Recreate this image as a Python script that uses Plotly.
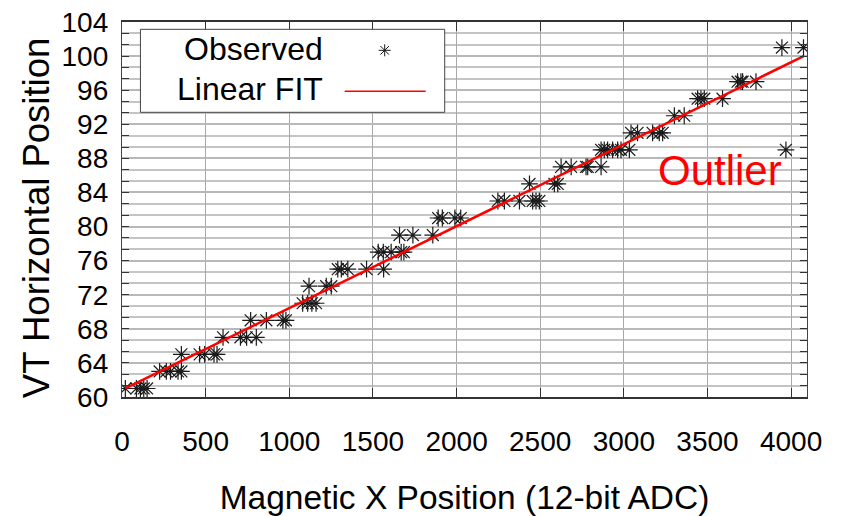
import plotly.graph_objects as go

# ---- data ----
obs_x = [
    20, 86, 110, 130, 150,                 # 61
    225, 265, 290, 335, 355,               # 63
    355, 464, 494, 550, 568,               # 65
    604, 708, 745, 803,                    # 67
    769, 863, 962, 980,                    # 69
    1080, 1110, 1135, 1160,                # 71
    1118, 1221, 1251,                      # 73
    1290, 1311, 1350, 1462, 1564,          # 75
    1532, 1562, 1609, 1669, 1685,          # 77
    1659, 1739, 1858,                      # 79
    1890, 1915, 1990, 2025,                # 81
    2247, 2286, 2376, 2455, 2475, 2495,    # 83
    2436, 2585, 2605,                      # 85
    2625, 2685, 2774, 2784, 2864,          # 87
    2864, 2883, 2903, 2933, 2963, 2983, 3033,  # 89
    3043, 3082, 3172, 3212, 3232,          # 91
    3302, 3361,                            # 93
    3441, 3461, 3481, 3590,                # 95
    3680, 3700, 3710, 3790,                # 97
    3945, 4074,                            # 101
    3969,                                  # outlier (89)
]
obs_y = (
    [61] * 5 + [63] * 5 + [65] * 5 + [67] * 4 + [69] * 4 + [71] * 4 + [73] * 3
    + [75] * 5 + [77] * 5 + [79] * 3 + [81] * 4 + [83] * 6 + [85] * 3 + [87] * 5
    + [89] * 7 + [91] * 5 + [93] * 2 + [95] * 4 + [97] * 4 + [101] * 2 + [89]
)

fit_x = [20, 4075]
fit_y = [61.0, 100.0]

x_ticks = [0, 500, 1000, 1500, 2000, 2500, 3000, 3500, 4000]
y_ticks = list(range(60, 105, 4))

FONT = "Liberation Sans, Arial, sans-serif"

fig = go.Figure()

fig.add_trace(go.Scatter(
    x=obs_x, y=obs_y, mode="markers", name="Observed",
    marker=dict(symbol="asterisk-open", size=14, color="#1a1a1a",
                line=dict(color="#1a1a1a", width=1.2)),
    showlegend=False,
))
fig.add_trace(go.Scatter(
    x=fit_x, y=fit_y, mode="lines", name="Linear FIT",
    line=dict(color="#ff0000", width=2.5),
    showlegend=False,
))

tickfont = dict(family=FONT, size=28, color="#000000")

# legend glyph for the asterisk (pixel-sized path anchored in paper coords)
star_path = "M -6,0 L 6,0 M 0,-6 L 0,6 M -4.3,-4.3 L 4.3,4.3 M -4.3,4.3 L 4.3,-4.3"

fig.update_layout(
    width=841, height=516,
    margin=dict(l=122, r=34, t=22, b=119, autoexpand=False),
    paper_bgcolor="white", plot_bgcolor="white",
    font=dict(family=FONT, color="#000000"),
    xaxis=dict(
        range=[0, 4095], tickmode="array", tickvals=x_ticks,
        automargin=False,
        showline=True, linecolor="#333333", linewidth=2, mirror="allticks",
        ticks="inside", tickcolor="#333333", ticklen=9, tickfont=tickfont,
        zeroline=False,
        showgrid=True, gridcolor="#a8a8a8", gridwidth=1.3,
        ticklabelstandoff=18,
        title=dict(text="Magnetic X Position (12-bit ADC)",
                   font=dict(family=FONT, size=33.5), standoff=39),
    ),
    yaxis=dict(
        range=[60, 104], tickmode="array", tickvals=y_ticks,
        automargin=False,
        showline=True, linecolor="#444444", linewidth=1.3, mirror="allticks",
        ticks="inside", tickcolor="#333333", ticklen=7, tickfont=tickfont,
        zeroline=False,
        showgrid=True, gridcolor="#b8b8b8", gridwidth=1.5,
        minor=dict(dtick=4 / 3, tick0=60, showgrid=True, gridcolor="#c4c4c4",
                   gridwidth=1.5, ticks="inside", ticklen=7, tickcolor="#333333"),
        ticklabelstandoff=7,
    ),
    shapes=[
        dict(type="rect", xref="paper", yref="paper",
             x0=0.0269, x1=0.4711, y0=0.7592, y1=0.9805,
             line=dict(color="#444444", width=1), fillcolor="white",
             layer="above"),
        dict(type="line", xref="paper", yref="paper",
             x0=0.3251, x1=0.4434, y0=0.8152, y1=0.8152,
             line=dict(color="#ff0000", width=1.5), layer="above"),
        dict(type="path", xref="paper", yref="paper",
             xsizemode="pixel", ysizemode="pixel",
             xanchor=0.3835, yanchor=0.9245, path=star_path,
             line=dict(color="#1a1a1a", width=1), layer="above"),
    ],
    annotations=[
        dict(text="VT Horizontal Position", xref="paper", yref="paper",
             x=-0.125, y=0.478, textangle=-90,
             xanchor="center", yanchor="middle", showarrow=False,
             font=dict(family=FONT, size=36.5, color="#000000")),
        dict(text="Observed", xref="paper", yref="paper", x=0.2959, y=0.929,
             xanchor="right", yanchor="middle", showarrow=False,
             font=dict(family=FONT, size=32, color="#000000")),
        dict(text="Linear FIT", xref="paper", yref="paper", x=0.2959, y=0.8224,
             xanchor="right", yanchor="middle", showarrow=False,
             font=dict(family=FONT, size=32, color="#000000")),
        dict(text="Outlier", xref="x", yref="y", x=3576, y=86.6,
             xanchor="center", yanchor="middle", showarrow=False,
             font=dict(family=FONT, size=42, color="#ff0000")),
    ],
)

fig.write_html("out.html")
